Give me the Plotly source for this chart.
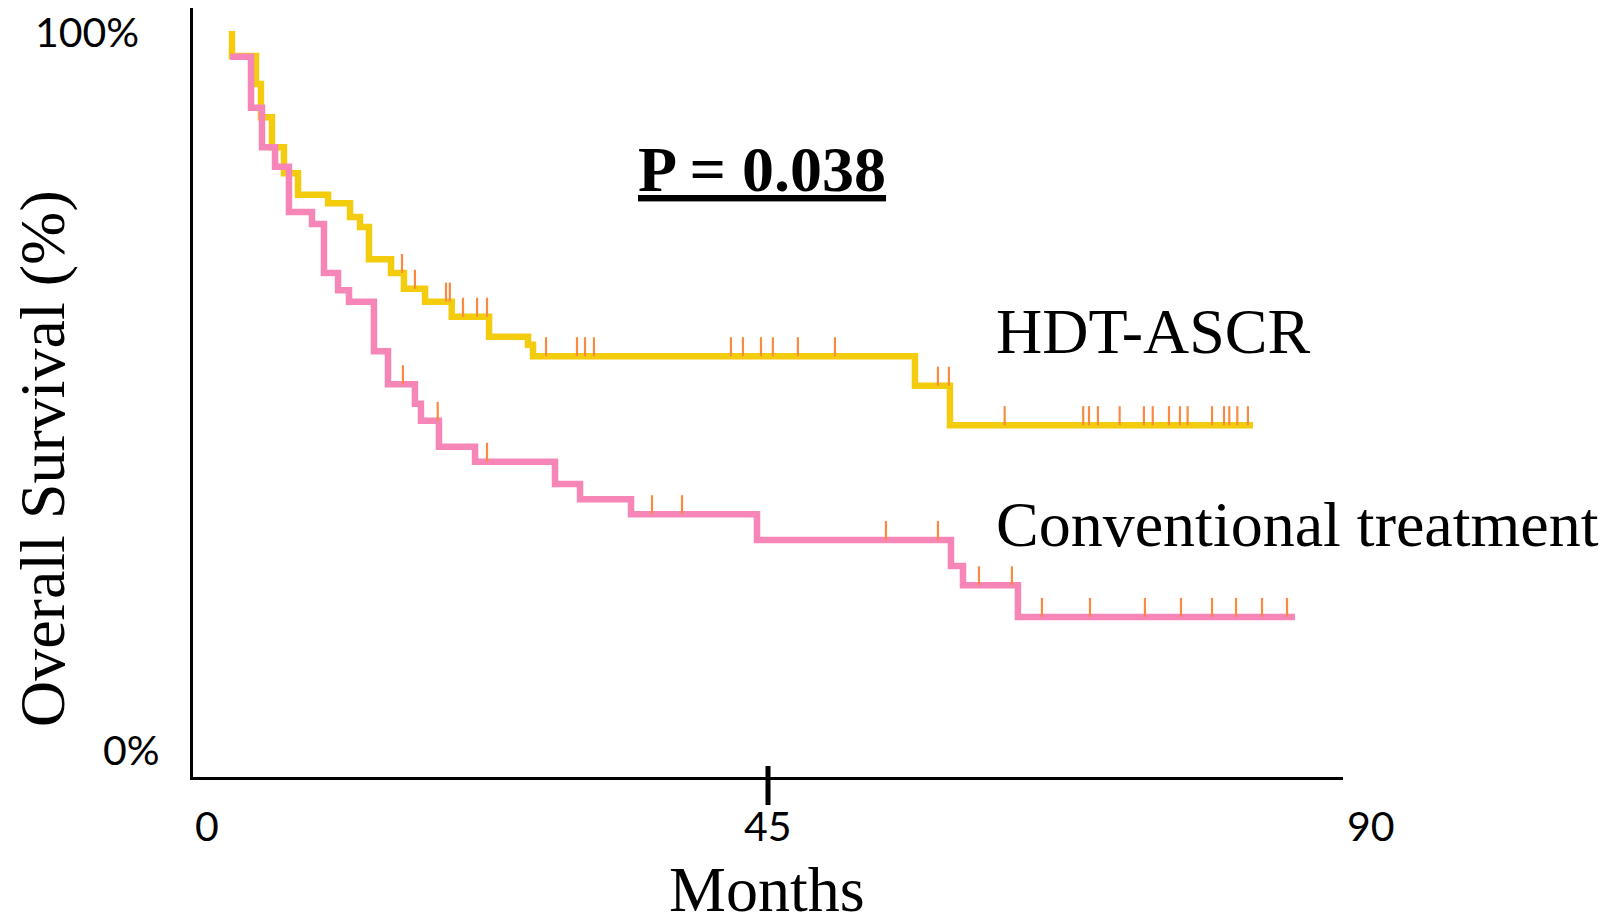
import numpy as np
import plotly.graph_objects as go

# ---------------- data ----------------
# HDT-ASCR arm (months, overall survival %)
hdt_start_time = 3.05
hdt_start_surv = 100.0
hdt_event_times = [3.05, 4.93, 5.32, 6.18, 7.12, 8.22, 10.57, 12.29, 13.07, 13.77,
                   15.50, 16.51, 18.16, 20.25, 23.17, 26.22, 26.61, 56.50, 59.24]
hdt_surv = [96.5, 92.6, 88.0, 83.8, 80.2, 77.2, 76.0, 74.1, 72.7, 68.2,
            66.3, 64.1, 62.3, 60.2, 57.4, 56.3, 54.7, 50.6, 45.1]
hdt_end_time = 82.96
hdt_censor_times = [16.36, 17.37, 19.80, 20.10, 21.13, 22.23, 23.01, 27.63, 30.05, 30.68,
                    31.38, 42.10, 43.04, 44.45, 45.38, 47.34, 50.24, 58.30, 59.16, 63.52,
                    69.67, 70.12, 70.82, 72.52, 74.42, 75.11, 76.38, 77.24, 77.84, 79.75,
                    80.69, 81.10, 81.73, 82.56]

# Conventional treatment arm
conv_start_time = 2.90
conv_start_surv = 96.4
conv_event_times = [4.54, 5.40, 6.42, 7.51, 9.31, 10.25, 11.35, 12.21, 14.16, 15.26,
                    17.37, 17.84, 19.25, 22.07, 28.33, 30.29, 34.28, 44.14, 59.32, 60.26,
                    64.56]
conv_surv = [89.3, 83.8, 81.1, 74.8, 73.1, 66.3, 63.9, 62.3, 55.4, 50.8,
             48.1, 45.7, 42.1, 40.0, 36.9, 34.8, 32.7, 29.1, 25.5, 22.8,
             18.4]
conv_end_time = 86.24
conv_censor_times = [16.43, 19.15, 23.01, 35.92, 38.27, 54.23, 58.30, 61.51, 64.09,
                     66.44, 70.20, 74.50, 77.32, 79.75, 81.63, 83.66, 85.62]

series_names = ["HDT-ASCR", "Conventional treatment"]
x_tick_vals = [0, 45, 90]
x_tick_text = ["0", "45", "90"]
y_tick_vals = [0, 100]
y_tick_text = ["0%", "100%"]
x_title = "Months"
y_title = "Overall Survival (%)"
p_text = "P = 0.038"

# ---------------- layout geometry ----------------
W, H = 1616, 914
L, R, T, B = 193, 273, 8, 137
plot_w = W - L - R
plot_h = H - T - B
x_range = [0, 90]
y_range = [-3.9, 103.2]

YELLOW = "#F4CC0E"
PINK = "#F786B8"
ORANGE = "#FA8A42"
SERIF = "Liberation Serif, Times New Roman, serif"
SANS = "Lato, Carlito, Calibri, sans-serif"


def px_x(px):
    return (px - L) / plot_w


def px_y(py):
    return (H - B - py) / plot_h


def step_xy(t0, s0, times, surv, t_end):
    xs = [t0] + list(times) + [t_end]
    ys = [s0] + list(surv) + [surv[-1]]
    return xs, ys


def level_at(t0_s, times, surv, c):
    idx = np.searchsorted(np.array(times), c, side="right") - 1
    return t0_s if idx < 0 else surv[idx]


tick_len = 19 * (y_range[1] - y_range[0]) / plot_h

fig = go.Figure()

hx, hy = step_xy(hdt_start_time, hdt_start_surv, hdt_event_times, hdt_surv, hdt_end_time)
cx, cy = step_xy(conv_start_time, conv_start_surv, conv_event_times, conv_surv, conv_end_time)

fig.add_trace(go.Scatter(x=hx, y=hy, mode="lines", line=dict(shape="hv", color=YELLOW, width=6.5),
                         name=series_names[0], showlegend=False, hoverinfo="skip"))
fig.add_trace(go.Scatter(x=cx, y=cy, mode="lines", line=dict(shape="hv", color=PINK, width=6.5),
                         name=series_names[1], showlegend=False, hoverinfo="skip"))

tx, ty = [], []
for c in hdt_censor_times:
    s = level_at(hdt_start_surv, hdt_event_times, hdt_surv, c)
    tx += [c, c, None]
    ty += [s, s + tick_len, None]
for c in conv_censor_times:
    s = level_at(conv_start_surv, conv_event_times, conv_surv, c)
    tx += [c, c, None]
    ty += [s, s + tick_len, None]
fig.add_trace(go.Scatter(x=tx, y=ty, mode="lines", line=dict(color=ORANGE, width=2.2),
                         showlegend=False, hoverinfo="skip", connectgaps=False))

annotations = []
# x tick labels (placed as in the reference)
x_label_shift = [14, 0, 28]
for v, t, sh in zip(x_tick_vals, x_tick_text, x_label_shift):
    annotations.append(dict(x=v, y=px_y(825), xref="x", yref="paper", text=t, showarrow=False,
                            xanchor="center", yanchor="middle", xshift=sh,
                            font=dict(family=SANS, size=41, color="black")))
# y tick labels
y_label_right = [162, 141]
y_label_center = [749, 31]
for v, t, rp, cp in zip(y_tick_vals, y_tick_text, y_label_right, y_label_center):
    annotations.append(dict(x=px_x(rp), y=px_y(cp), xref="paper", yref="paper", text=t,
                            showarrow=False, xanchor="right", yanchor="middle",
                            font=dict(family=SANS, size=41, color="black")))
# axis titles
annotations.append(dict(x=px_x(767), y=px_y(889), xref="paper", yref="paper", text=x_title,
                        showarrow=False, xanchor="center", yanchor="middle",
                        font=dict(family=SERIF, size=64, color="black")))
annotations.append(dict(x=px_x(43), y=px_y(459), xref="paper", yref="paper", text=y_title,
                        showarrow=False, xanchor="center", yanchor="middle", textangle=-90,
                        font=dict(family=SERIF, size=64, color="black")))
# P value
annotations.append(dict(x=px_x(762), y=px_y(170), xref="paper", yref="paper",
                        text="<b><u>" + p_text + "</u></b>", showarrow=False,
                        xanchor="center", yanchor="middle",
                        font=dict(family=SERIF, size=64, color="black")))
# series labels
annotations.append(dict(x=px_x(994), y=px_y(332), xref="paper", yref="paper", text=series_names[0],
                        showarrow=False, xanchor="left", yanchor="middle",
                        font=dict(family=SERIF, size=64, color="black")))
annotations.append(dict(x=px_x(994), y=px_y(524), xref="paper", yref="paper", text=series_names[1],
                        showarrow=False, xanchor="left", yanchor="middle",
                        font=dict(family=SERIF, size=64, color="black")))

shapes = [dict(type="line", xref="x", x0=45, x1=45, yref="paper", ysizemode="pixel",
               yanchor=0, y0=-28, y1=11, line=dict(color="black", width=5))]

fig.update_layout(
    width=W, height=H,
    margin=dict(l=L, r=R, t=T, b=B, pad=0),
    paper_bgcolor="white", plot_bgcolor="white",
    showlegend=False,
    annotations=annotations,
    shapes=shapes,
    xaxis=dict(range=x_range, showgrid=False, zeroline=False, showticklabels=False, ticks="",
               showline=True, linecolor="black", linewidth=3, fixedrange=True),
    yaxis=dict(range=y_range, showgrid=False, zeroline=False, showticklabels=False, ticks="",
               showline=True, linecolor="black", linewidth=3, fixedrange=True),
)

fig.write_html("out.html", config={"displayModeBar": False},
               post_script="document.body.style.margin='0';document.body.style.overflow='hidden';")
